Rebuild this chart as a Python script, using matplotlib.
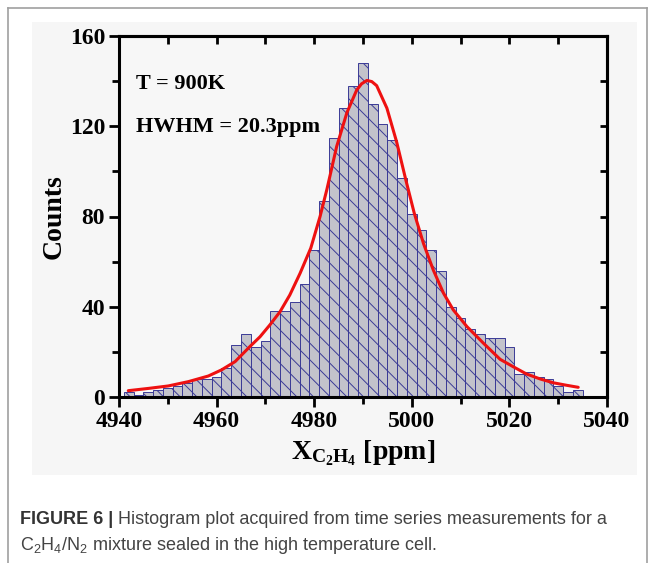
import matplotlib
matplotlib.use("Agg")
import matplotlib.pyplot as plt
from matplotlib.patches import Rectangle
from matplotlib.lines import Line2D
from matplotlib.ticker import MultipleLocator

# histogram bins (left edge, ppm) and counts
bin_left = [4941, 4943, 4945, 4947, 4949, 4951, 4953, 4955, 4957, 4959,
            4961, 4963, 4965, 4967, 4969, 4971, 4973, 4975, 4977, 4979,
            4981, 4983, 4985, 4987, 4989, 4991, 4993, 4995, 4997, 4999,
            5001, 5003, 5005, 5007, 5009, 5011, 5013, 5015, 5017, 5019,
            5021, 5023, 5025, 5027, 5029, 5031, 5033]
counts = [2, 1, 2, 3, 4, 5, 6, 8, 8, 9,
          13, 23, 28, 22, 25, 38, 38, 42, 50, 65,
          87, 115, 128, 138, 148, 130, 121, 114, 97, 81,
          74, 65, 56, 40, 35, 30, 28, 26, 26, 22,
          10, 11, 9, 8, 5, 2, 3]
bin_width = 2

# fitted curve, points
fit_x = [4941.9, 4946.0, 4950.1, 4954.2, 4958.3, 4961.0, 4963.8, 4966.8,
         4968.9, 4970.9, 4973.0, 4975.0, 4977.1, 4979.3, 4981.2, 4982.6,
         4984.6, 4986.7, 4988.7, 4989.7, 4990.8, 4991.8, 4992.8, 4994.9,
         4996.9, 4998.8, 5000.5, 5002.4, 5004.4, 5006.5, 5008.5, 5011.3,
         5014.7, 5018.1, 5020.8, 5023.5, 5026.3, 5029.0, 5031.7, 5034.1]
fit_y = [2.8, 3.8, 4.9, 6.8, 9.3, 12.0, 15.7, 22.3,
         26.7, 31.9, 37.8, 45.2, 54.8, 66.0, 80.0, 92.0,
         111.0, 126.0, 136.0, 138.8, 140.3, 139.8, 138.0, 128.0,
         113.0, 96.0, 81.5, 68.0, 56.3, 46.0, 38.6, 31.2,
         23.8, 16.7, 13.4, 10.2, 8.0, 6.3, 5.2, 4.3]

plt.rcParams.update({
    "font.family": "Liberation Serif",
    "font.weight": "bold",
    "mathtext.fontset": "custom",
    "mathtext.rm": "Liberation Serif:bold",
    "mathtext.bf": "Liberation Serif:bold",
    "mathtext.it": "Liberation Serif:bold",
    "mathtext.sf": "Liberation Sans:normal",
    "hatch.color": "#3a3a96",
    "hatch.linewidth": 0.7,
})

fig = plt.figure(figsize=(6.55, 5.63), dpi=100)
fig.patch.set_facecolor("white")

# light grey panel behind the chart
fig.patches.append(Rectangle((32 / 655, 1 - 475 / 563), 605 / 655, 453 / 563,
                             transform=fig.transFigure, facecolor="#f6f6f6",
                             edgecolor="none", zorder=-2))
# page frame
for xs, ys in [([8, 8], [8, 563]), ([8, 647], [8, 8]), ([647, 647], [8, 563])]:
    fig.lines.append(Line2D([x / 655 for x in xs], [1 - y / 563 for y in ys],
                            transform=fig.transFigure, color="#a0a0a0", lw=1.2,
                            zorder=-1))

ax = fig.add_axes([119 / 655, 1 - 397 / 563, 488 / 655, 361 / 563])
ax.set_facecolor("#f7f7f7")

ax.bar(bin_left, counts, width=bin_width, align="edge",
       facecolor="#c3c3cb", edgecolor="#3a3a96", linewidth=0.7,
       hatch="\\\\", zorder=2)
ax.plot(fit_x, fit_y, color="#ee1111", lw=2.2, solid_joinstyle="round",
        solid_capstyle="round", zorder=3)

ax.set_xlim(4940, 5040)
ax.set_ylim(0, 160)
ax.xaxis.set_major_locator(MultipleLocator(20))
ax.xaxis.set_minor_locator(MultipleLocator(10))
ax.yaxis.set_major_locator(MultipleLocator(40))
ax.yaxis.set_minor_locator(MultipleLocator(20))

for s in ax.spines.values():
    s.set_linewidth(2.2)
ax.tick_params(which="major", direction="out", length=7, width=2, labelsize=17, pad=3)
ax.tick_params(which="minor", direction="out", length=5, width=2)
for lab in ax.get_xticklabels() + ax.get_yticklabels():
    lab.set_fontweight("bold")

top = ax.secondary_xaxis("top")
top.xaxis.set_major_locator(MultipleLocator(10))
top.tick_params(direction="in", length=6, width=2, labeltop=False)
top.spines["top"].set_linewidth(2.2)
right = ax.secondary_yaxis("right")
right.yaxis.set_major_locator(MultipleLocator(20))
right.tick_params(direction="in", length=5, width=2, labelright=False)
right.spines["right"].set_linewidth(2.2)

ax.set_ylabel("Counts", fontsize=20, fontweight="bold", labelpad=2)
ax.set_xlabel(r"$\mathbf{X}_{\mathbf{C_2H_4}}$ [ppm]", fontsize=20,
              fontweight="bold", labelpad=5)

ax.text(0.035, 0.867, "T = 900K", transform=ax.transAxes, fontsize=16,
        fontweight="bold", va="center", ha="left")
ax.text(0.035, 0.748, "HWHM = 20.3ppm", transform=ax.transAxes, fontsize=16,
        fontweight="bold", va="center", ha="left")

# caption
cap_font = ["Liberation Sans", "DejaVu Sans"]
t1 = fig.text(20 / 655, 1 - 519 / 563, "FIGURE 6 |", family=cap_font,
              fontweight="bold", fontsize=13, color="#333333", va="center")
ax.annotate(" Histogram plot acquired from time series measurements for a",
            xy=(1, 0), xycoords=t1, va="bottom", ha="left", family=cap_font,
            fontweight="normal", fontsize=13, color="#444444",
            annotation_clip=False)
fig.text(20 / 655, 1 - 545 / 563,
         r"$\mathsf{C_2H_4/N_2}$ mixture sealed in the high temperature cell.",
         family=cap_font, fontweight="normal", fontsize=13, color="#444444",
         va="center")

fig.savefig("out.png", dpi=100, facecolor="white")
